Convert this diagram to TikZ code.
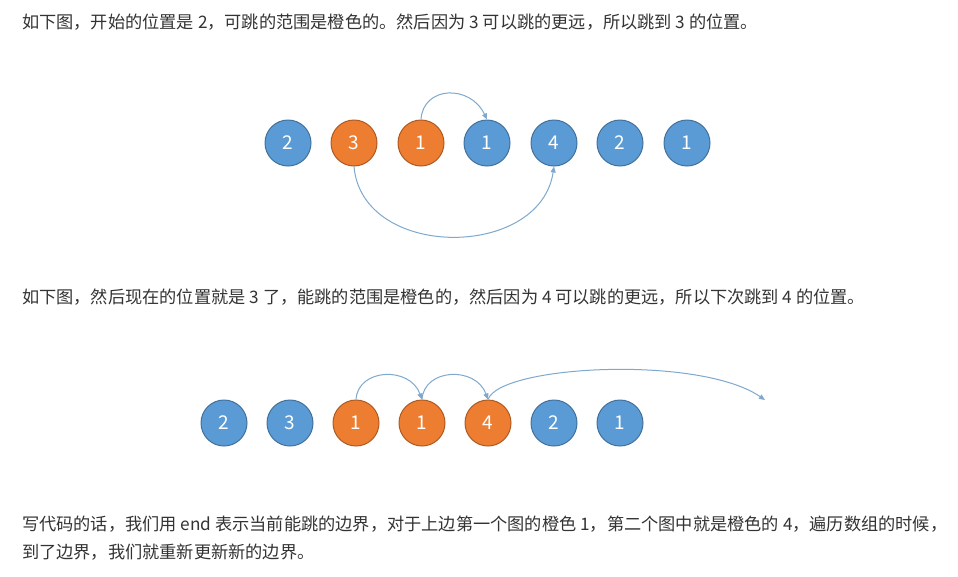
\documentclass[tikz,border=0pt]{standalone}
\usepackage{fontspec}
\setmainfont{Noto Sans CJK SC}
\usetikzlibrary{arrows.meta}
\definecolor{bl}{HTML}{5B9BD5}
\definecolor{blb}{HTML}{41719C}
\definecolor{or}{HTML}{ED7D31}
\definecolor{orb}{HTML}{AE5A21}
\definecolor{arr}{HTML}{7EA8CE}
\definecolor{tx}{HTML}{333333}
\tikzset{
 bc/.style={circle,minimum size=46pt,inner sep=0pt,fill=bl,draw=blb,line width=1pt,text=white,font=\fontsize{19pt}{19pt}\selectfont},
 oc/.style={bc,fill=or,draw=orb},
 ar/.style={draw=arr,line width=1pt,-{Triangle[length=6pt,width=5pt]}},
 para/.style={anchor=west,text=tx,font=\fontsize{17.2pt}{20pt}\selectfont,inner sep=0pt}
}
\begin{document}
\begin{tikzpicture}[x=1pt,y=-1pt]
\useasboundingbox[fill=white] (0,0) rectangle (958,576);
\node[para] (t1) at (22,22) {如下图，开始的位置是 2，可跳的范围是橙色的。然后因为 3 可以跳的更远，所以跳到 3 的位置。};
\node[bc] (a1) at (288,143) {2};
\node[oc] (a2) at (354,143) {3};
\node[oc] (a3) at (421,143) {1};
\node[bc] (a4) at (487,143) {1};
\node[bc] (a5) at (554,143) {4};
\node[bc] (a6) at (620,143) {2};
\node[bc] (a7) at (687,143) {1};
\draw[ar] (a3.north) .. controls (423,86) and (470,84) .. (a4.north);
\draw[ar] (a2.south) .. controls (362,260) and (540,260) .. (a5.south);
\node[para] (t2) at (22,297) {如下图，然后现在的位置就是 3 了，能跳的范围是橙色的，然后因为 4 可以跳的更远，所以下次跳到 4 的位置。};
\node[bc] (b1) at (224,423) {2};
\node[bc] (b2) at (290,423) {3};
\node[oc] (b3) at (356,423) {1};
\node[oc] (b4) at (422,423) {1};
\node[oc] (b5) at (488,423) {4};
\node[bc] (b6) at (554,423) {2};
\node[bc] (b7) at (620,423) {1};
\coordinate (e) at (765,400);
\draw[ar] (b3.north) .. controls (358,368) and (410,366) .. (b4.north);
\draw[ar] (b4.north) .. controls (424,368) and (476,366) .. (b5.north);
\draw[ar] (b5.north) .. controls (500,365) and (700,355) .. (e);
\node[para] (t3) at (22,524) {写代码的话，我们用 end 表示当前能跳的边界，对于上边第一个图的橙色 1，第二个图中就是橙色的 4，遍历数组的时候，};
\node[para] (t4) at (22,552) {到了边界，我们就重新更新新的边界。};
\end{tikzpicture}
\end{document}
